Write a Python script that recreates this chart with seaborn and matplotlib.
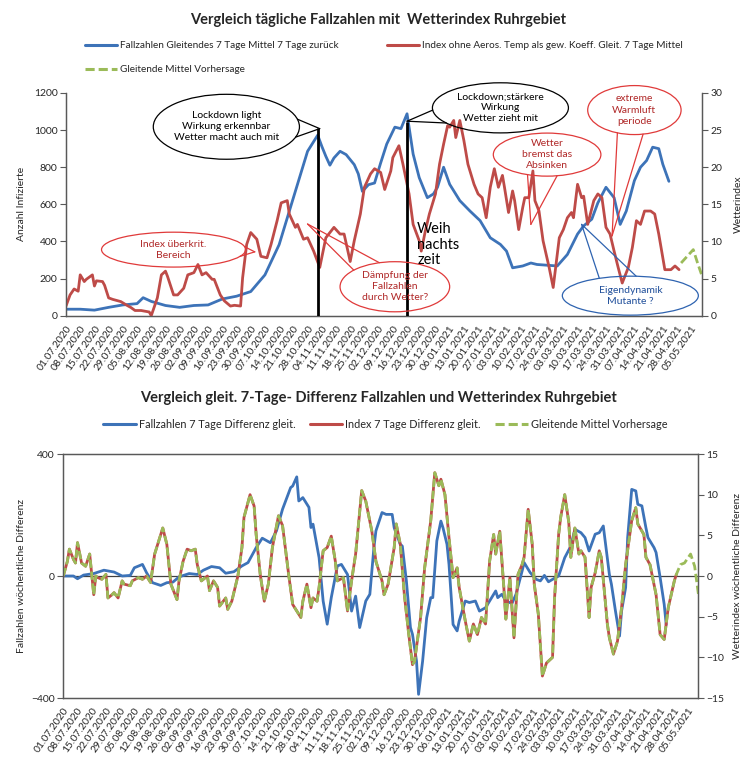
import matplotlib
matplotlib.use("Agg")
from datetime import timedelta

import numpy as np
import pandas as pd
import seaborn as sns
from matplotlib import pyplot as plt
from matplotlib import dates as mdates
from matplotlib.lines import Line2D
from matplotlib.patches import Ellipse


START = pd.Timestamp("2020-07-01")

# --- oberes Diagramm: Tage seit 01.07.2020 und Werte ---
faelle_tage = [0, 7, 14, 21, 28, 35, 38, 42, 49, 56, 63, 70, 77, 84, 91, 98, 105, 112, 119, 124,
               126, 128, 130, 132, 135, 138, 142, 144, 146, 149, 152, 155, 158, 162, 165, 168, 171, 174,
               178, 181, 183, 186, 189, 194, 199, 204, 209, 214, 217, 220, 225, 229, 232, 237, 242, 247,
               252, 255, 259, 262, 266, 270, 273, 276, 280, 283, 286, 289, 292, 294, 297]
faelle_werte = [35, 35, 30, 45, 58, 65, 97, 77, 55, 45, 55, 58, 90, 105, 130, 220, 383, 635, 886, 973,
                913, 859, 811, 850, 886, 868, 814, 764, 670, 706, 715, 823, 925, 1016, 1008, 1088, 871, 744,
                636, 656, 692, 800, 708, 620, 564, 512, 420, 384, 348, 258, 268, 284, 276, 272, 268, 330,
                440, 484, 520, 608, 692, 636, 492, 564, 728, 800, 836, 908, 900, 816, 724]

index_tage = [0, 2, 4, 6, 7, 9, 10, 13, 14, 15, 18, 19, 21, 23, 27, 30, 32, 34, 37, 41,
              42, 45, 47, 49, 50, 53, 55, 58, 60, 63, 65, 67, 69, 72, 73, 76, 78, 81, 83, 86,
              87, 89, 91, 94, 96, 99, 101, 104, 106, 109, 110, 113, 114, 117, 119, 122, 125, 128, 130, 132,
              135, 137, 140, 142, 145, 147, 150, 152, 155, 157, 160, 161, 164, 166, 169, 171, 174, 175, 177, 179,
              182, 184, 186, 188, 189, 191, 192, 194, 196, 198, 200, 201, 203, 205, 207, 209, 211, 213, 215, 216,
              218, 220, 221, 223, 225, 226, 228, 230, 231, 233, 235, 238, 240, 243, 245, 247, 249, 250, 252, 254,
              255, 257, 260, 262, 264, 266, 268, 270, 272, 274, 277, 279, 281, 283, 285, 288, 290, 292, 294, 295,
              298, 300, 302]
index_werte = [1.3, 2.8, 3.6, 3.3, 5.5, 4.6, 4.9, 5.5, 4.0, 4.7, 4.6, 4.1, 2.4, 2.2, 1.9, 1.4, 1.1, 0.7, 0.7, 0.5,
               0.0, 2.4, 5.5, 6.0, 5.3, 2.8, 2.8, 3.7, 5.5, 5.8, 6.9, 5.5, 5.8, 4.9, 4.9, 2.8, 2.0, 1.3, 1.4, 1.3,
               5.1, 9.6, 11.2, 10.3, 8.0, 7.8, 9.6, 12.8, 15.2, 15.5, 13.7, 11.9, 12.3, 10.3, 10.5, 8.7, 6.5, 10.5, 11.2, 11.9,
               11.0, 11.0, 7.3, 10.1, 13.7, 17.3, 19.1, 19.8, 19.3, 17.0, 19.5, 21.3, 22.9, 20.4, 16.4, 12.3, 10.1, 8.7, 11.4, 13.7,
               16.4, 20.4, 23.1, 25.6, 25.4, 26.3, 24.0, 26.3, 23.6, 20.4, 18.6, 17.7, 16.4, 15.9, 13.2, 17.3, 19.8, 17.3, 18.9, 17.3,
               13.9, 16.8, 15.5, 11.6, 14.6, 15.9, 15.9, 19.5, 15.5, 14.1, 10.1, 6.5, 3.8, 10.5, 11.6, 13.2, 13.9, 13.2, 17.7, 15.9,
               16.1, 12.3, 15.5, 16.4, 15.9, 11.9, 11.0, 8.7, 6.5, 4.4, 6.5, 9.2, 12.8, 12.3, 14.1, 14.1, 13.7, 11.0, 7.8, 6.2,
               6.2, 6.7, 6.2]

prognose_tage = [303, 309, 311, 313]
prognose_werte = [7.1, 8.9, 7.2, 5.6]

# --- unteres Diagramm: gleitende 7-Tage-Differenzen ---
diff_faelle_tage = [0, 5, 7, 10, 15, 20, 25, 29, 33, 35, 39, 41, 44, 48, 51, 54, 57, 62, 66, 69,
                    73, 77, 80, 84, 88, 91, 95, 98, 102, 105, 108, 112, 113, 115, 116, 118, 121, 122, 123, 126,
                    128, 130, 132, 135, 137, 140, 142, 144, 146, 149, 151, 153, 154, 157, 159, 162, 163, 166, 167, 169,
                    171, 172, 174, 175, 177, 179, 181, 182, 184, 186, 187, 189, 190, 192, 194, 195, 198, 200, 203, 205,
                    208, 211, 213, 214, 216, 218, 221, 223, 226, 227, 230, 233, 235, 237, 239, 241, 244, 247, 250, 252,
                    255, 257, 259, 262, 264, 266, 269, 270, 272, 274, 275, 277, 278, 280, 282, 283, 285, 287, 288, 291,
                    292, 294, 296, 297]
diff_faelle_werte = [0, 0, -9, 3, 8, 19, 13, 0, 2, 27, 38, 11, -22, -31, -22, -20, -3, 8, 5, 19,
                     31, 27, 9, 14, 33, 44, 93, 124, 109, 148, 219, 290, 295, 325, 246, 257, 225, 159, 170, 60,
                     -82, -158, -71, 33, 38, 5, -115, -66, -169, -82, -60, 93, 148, 208, 202, 202, 158, 104, 98, -16,
                     -169, -191, -279, -388, -279, -137, -71, -71, 115, 180, 159, 104, 38, -159, -180, -148, -82, -87, -82, -115,
                     -104, -71, -49, -71, -60, -82, -90, -60, 16, 44, 11, -11, -16, 2, -19, -11, 0, 60, 98, 153,
                     142, 126, 82, 137, 142, 164, 5, -27, -115, -197, -115, -38, 126, 284, 279, 235, 230, 158, 126, 93,
                     77, -5, -93, -160]

diff_index_tage = [0, 2, 3, 5, 6, 7, 9, 11, 13, 15, 16, 17, 19, 21, 22, 24, 25, 27, 29, 30,
                   33, 34, 37, 39, 41, 43, 45, 48, 49, 51, 53, 56, 57, 59, 61, 63, 65, 66, 68, 71,
                   72, 74, 76, 77, 80, 81, 83, 85, 86, 88, 89, 92, 94, 95, 97, 99, 101, 103, 106, 108,
                   111, 113, 117, 118, 120, 122, 123, 125, 126, 128, 130, 132, 134, 135, 138, 140, 142, 144, 147, 149,
                   152, 154, 157, 158, 160, 163, 164, 166, 168, 170, 172, 173, 176, 178, 181, 183, 185, 186, 188, 190,
                   192, 194, 195, 198, 200, 202, 204, 206, 208, 210, 212, 213, 215, 217, 218, 220, 222, 224, 226, 227,
                   229, 231, 232, 234, 236, 238, 241, 242, 244, 245, 247, 249, 250, 252, 254, 255, 257, 259, 260, 262,
                   264, 265, 268, 269, 271, 273, 275, 277, 280, 282, 283, 286, 287, 289, 292, 294, 296, 298, 301, 302]
diff_index_werte = [0, 1.8, 3.3, 2.05, 1.6, 4.1, 1.6, 1.2, 2.7, -2.3, 0, -0.2, -0.4, 0.2, -2.7, -2.3, -2.05, -2.7, -0.6, -1,
                    -1.2, -0.6, -0.2, -0.4, 0, -0.8, 2.7, 5.1, 5.9, 3.9, -1, -2.9, -0.6, 1.8, 3.3, 3.1, 3.3, 1.4, -0.6, 0,
                    -1.8, -0.6, -1.4, -3.7, -2.7, -4.1, -3.1, -1, 0, 3.5, 7.2, 10, 8.6, 5.1, 0.2, -3.1, -1, 3.5, 7.4, 6.2,
                    0.2, -3.5, -5.1, -3.1, -1, -3.9, -2.7, -3.1, -1.4, 3.1, 3.5, 4.9, 1.8, -0.6, -0.2, -4.3, -0.6, 2.7, 10.5, 9.2,
                    5.5, 1.8, -0.6, -2.3, -1, 3.5, 6.4, 3.9, -2.3, -6.8, -10.9, -10.5, -5.1, 1, 6.8, 12.7, 11.1, 11.9, 10, 4.7,
                    -0.2, 1, -1.4, -5.5, -8, -5.9, -7.2, -5.1, -5.9, 1.8, 5.1, 2.7, 5.5, -1.4, -5.3, -0.2, -7.6, 0.2, 1.4, 2.3,
                    8.2, 3.9, -1, -4.7, -12.3, -10.7, -10, -2.7, 5.1, 7.2, 10, 6.6, 2.3, 5.9, 2.7, 3.1, 2.3, -5.1, -1.4, 0.4,
                    3.1, 2.3, -5.9, -7.6, -9.6, -8, -3.9, 1.4, 6.8, 8.4, 6.4, 5.1, 2.3, 1.4, -2.3, -7.2, -7.8, -3.9, -0.6, 0.2]

diff_prognose_tage = [304, 306, 309, 311, 313]
diff_prognose_werte = [1.4, 1.6, 2.7, 1.2, -2.5]

wochen = pd.date_range("2020-07-01", "2021-05-05", freq="7D")
wochen_labels = [d.strftime("%d.%m.%Y") for d in wochen]

BLAU = "#3D73B8"
ROT = "#BE4B48"
GRUEN = "#9BBB59"
ACHSE = "#595959"
DASH = (0, (3, 1.3))


def datum(tage):
    return START + pd.to_timedelta(np.asarray(tage), unit="D")


def linie(ax, tage, werte, farbe, **kw):
    df = pd.DataFrame({"datum": datum(tage), "wert": werte})
    sns.lineplot(data=df, x="datum", y="wert", ax=ax, color=farbe, linewidth=2.0, **kw)


def sprechblase(ax, text, mitte, groesse, spitze, rand, schrift):
    cx = mdates.date2num(START + timedelta(days=mitte[0]))
    cy = mitte[1]
    w, h = groesse
    tx = mdates.date2num(START + timedelta(days=spitze[0]))
    ty = spitze[1]
    ax.add_patch(Ellipse((cx, cy), w, h, fill=False, edgecolor=rand, lw=0.9, clip_on=False, zorder=6))
    phi = np.arctan2((ty - cy) / (h / 2), (tx - cx) / (w / 2))
    for d in (-0.28, 0.28):
        bx = cx + w / 2 * np.cos(phi + d)
        by = cy + h / 2 * np.sin(phi + d)
        ax.plot([bx, tx], [by, ty], color=rand, lw=0.9, clip_on=False, zorder=6, scalex=False, scaley=False)
    ax.text(cx, cy, text, ha="center", va="center", color=schrift, fontsize=7.5, linespacing=1.3, zorder=7)


def achsen_stil(ax, ax_r, oben_rahmen):
    for a in (ax, ax_r):
        for s in a.spines.values():
            s.set_color(ACHSE)
            s.set_linewidth(0.9)
        a.spines["top"].set_visible(oben_rahmen)
        a.tick_params(direction="out", length=4, width=0.8, color=ACHSE, labelsize=7.5, pad=2)
        a.set_xlabel("")
    ax.set_xlim(START, START + timedelta(days=313.3))
    ax.set_xticks(wochen)
    ax.set_xticklabels(wochen_labels, rotation=55, ha="right", rotation_mode="anchor", fontsize=7.5)


def main():
    sns.set_theme(style="white")
    plt.rcParams["font.family"] = ["Lato", "DejaVu Sans"]

    fig = plt.figure(figsize=(7.56, 7.62), dpi=100)

    # ---------------- oberes Diagramm ----------------
    ax = fig.add_axes([66 / 756, 1 - 315.7 / 762, 636 / 756, 222.7 / 762])
    ax_r = ax.twinx()
    linie(ax, faelle_tage, faelle_werte, BLAU)
    linie(ax_r, index_tage, index_werte, ROT)
    linie(ax_r, prognose_tage, prognose_werte, GRUEN, linestyle=DASH)

    ax.set_ylim(0, 1200)
    ax.set_yticks(range(0, 1201, 200))
    ax_r.set_ylim(0, 30)
    ax_r.set_yticks(range(0, 31, 5))
    ax.set_ylabel("Anzahl Infizierte", fontsize=7.5, labelpad=6)
    ax_r.set_ylabel("Wetterindex", fontsize=7.5, labelpad=8)
    achsen_stil(ax, ax_r, False)

    # Lockdown-Linien
    ax_r.vlines(datum([124, 168]), 0, [25.25, 26.1], color="black", lw=2, zorder=5)

    sprechblase(ax_r, "Lockdown light\nWirkung erkennbar\nWetter macht auch mit",
                (79, 25.45), (72, 8.75), (125, 25.2), "black", "black")
    sprechblase(ax_r, "Lockdown;stärkere\nWirkung\nWetter zieht mit",
                (214, 28.0), (67, 6.75), (168, 26.2), "black", "black")
    sprechblase(ax_r, "Index überkrit.\nBereich",
                (53, 8.9), (71, 4.7), (93, 8.6), "#E03A3A", "#B02828")
    sprechblase(ax_r, "Dämpfung der\nFallzahlen\ndurch Wetter?",
                (162, 3.9), (54, 6.75), (119, 12.35), "#E03A3A", "#B02828")
    sprechblase(ax_r, "Wetter\nbremst das\nAbsinken",
                (237, 21.7), (53, 5.8), (229, 12.3), "#E03A3A", "#B02828")
    sprechblase(ax_r, "extreme\nWarmluft\nperiode",
                (280, 27.7), (46, 6.6), (269, 10.75), "#E03A3A", "#B02828")
    sprechblase(ax_r, "Eigendynamik\nMutante ?",
                (278, 2.7), (67, 5.25), (254, 12.3), "#2E63B0", "#1F4E9A")
    ax_r.text(datum([173])[0], 12.6, "Weih\nnachts\nzeit", ha="left", va="top",
              fontsize=10.5, color="black", linespacing=1.15, zorder=7)

    fig.text(0.5, 1 - 20 / 762, "Vergleich tägliche Fallzahlen mit  Wetterindex Ruhrgebiet",
             ha="center", va="center", fontsize=10.5, fontweight="bold")
    handles = [Line2D([], [], color=BLAU, lw=2.2), Line2D([], [], color=GRUEN, lw=2.2, linestyle=DASH),
               Line2D([], [], color=ROT, lw=2.2)]
    labels = ["Fallzahlen Gleitendes 7 Tage Mittel 7 Tage zurück", "Gleitende Mittel Vorhersage",
              "Index ohne Aeros. Temp als gew. Koeff. Gleit. 7 Tage Mittel"]
    fig.legend(handles, labels, loc="upper left", bbox_to_anchor=(85 / 756, 1 - 41 / 762), ncol=2,
               frameon=False, fontsize=7.2, handlelength=3.2, handletextpad=0.3, columnspacing=4.8,
               labelspacing=1.5, borderaxespad=0, borderpad=0)

    # ---------------- unteres Diagramm ----------------
    bx = fig.add_axes([63.3 / 756, 1 - 698 / 762, 635 / 756, 244 / 762])
    bx_r = bx.twinx()
    bx.axhline(0, color="#404040", lw=0.9, zorder=1)
    linie(bx, diff_faelle_tage, diff_faelle_werte, BLAU)
    linie(bx_r, diff_index_tage, diff_index_werte, ROT)
    linie(bx_r, diff_index_tage + diff_prognose_tage, diff_index_werte + diff_prognose_werte,
          GRUEN, linestyle=DASH)

    bx.set_ylim(-400, 400)
    bx.set_yticks([-400, 0, 400])
    bx_r.set_ylim(-15, 15)
    bx_r.set_yticks(range(-15, 16, 5))
    bx.set_ylabel("Fallzahlen wöchentliche Differenz", fontsize=7.5, labelpad=4)
    bx_r.set_ylabel("Wetterindex wöchentliche Differenz", fontsize=7.5, labelpad=6)
    achsen_stil(bx, bx_r, True)
    bx.set_xlim(START, START + timedelta(days=312.8))

    fig.text(0.5, 1 - 398 / 762,
             "Vergleich gleit. 7-Tage- Differenz Fallzahlen und Wetterindex Ruhrgebiet",
             ha="center", va="center", fontsize=10.5, fontweight="bold")
    handles = [Line2D([], [], color=BLAU, lw=2.2), Line2D([], [], color=ROT, lw=2.2),
               Line2D([], [], color=GRUEN, lw=2.2, linestyle=DASH)]
    labels = ["Fallzahlen 7 Tage Differenz gleit.", "Index 7 Tage Differenz gleit.",
              "Gleitende Mittel Vorhersage"]
    fig.legend(handles, labels, loc="upper left", bbox_to_anchor=(103 / 756, 1 - 419 / 762), ncol=3,
               frameon=False, fontsize=7.8, handlelength=3.0, handletextpad=0.3, columnspacing=1.3,
               borderaxespad=0, borderpad=0)

    fig.savefig("out.png", dpi=100)


if __name__ == "__main__":
    main()
